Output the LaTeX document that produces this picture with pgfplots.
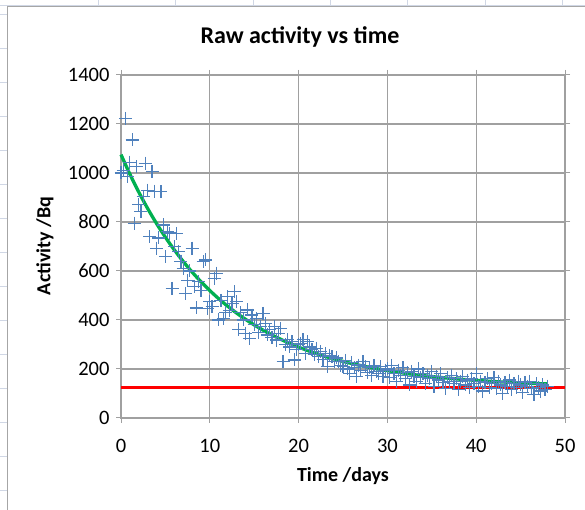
\documentclass[border=0pt]{standalone}
\usepackage{pgfplots}
\pgfplotsset{compat=1.18}
\usepackage{fontspec}
\setmainfont{Carlito}

\definecolor{ptblue}{HTML}{4F81BD}
\definecolor{trendgreen}{HTML}{00B050}
\definecolor{gridgray}{HTML}{A0A0A0}
\definecolor{cellgray}{HTML}{D0D7E5}

% raw counts, one reading every 6 h
\pgfplotstableread{
t A
0.00 1000
0.25 1010
0.50 1223
0.75 985
1.00 1044
1.25 1135
1.50 795
1.75 1026
2.00 870
2.25 842
2.50 905
2.75 1040
3.00 930
3.25 740
3.50 1005
3.75 926
4.00 693
4.25 735
4.50 924
4.75 788
5.00 658
5.25 760
5.50 755
5.75 529
6.00 700
6.25 754
6.50 679
6.75 640
7.00 611
7.25 509
7.50 560
7.75 600
8.00 693
8.25 536
8.50 449
8.75 556
9.00 522
9.25 638
9.50 645
9.75 448
10.00 475
10.25 454
10.50 570
10.75 591
11.00 400
11.25 480
11.50 407
11.75 430
12.00 495
12.25 440
12.50 468
12.75 516
13.00 475
13.25 360
13.50 430
13.75 400
14.00 346
14.25 441
14.50 325
14.75 420
15.00 380
15.25 407
15.50 350
15.75 373
16.00 427
16.25 386
16.50 339
16.75 360
17.00 330
17.25 373
17.50 318
17.75 345
18.00 366
18.25 230
18.50 300
18.75 320
19.00 290
19.25 312
19.50 237
19.75 280
20.00 300
20.25 305
20.50 320
20.75 264
21.00 312
21.25 290
21.50 278
21.75 260
22.00 285
22.25 250
22.50 270
22.75 240
23.00 264
23.25 209
23.50 255
23.75 250
24.00 230
24.25 245
24.50 230
24.75 215
25.00 209
25.25 235
25.50 200
25.75 182
26.00 225
26.25 205
26.50 169
26.75 216
27.00 195
27.25 230
27.50 210
27.75 185
28.00 205
28.25 175
28.50 215
28.75 190
29.00 180
29.25 210
29.50 170
29.75 195
30.00 200
30.25 165
30.50 215
30.75 180
31.00 150
31.25 195
31.50 175
31.75 205
32.00 160
32.25 185
32.50 135
32.75 190
33.00 170
33.25 150
33.50 200
33.75 165
34.00 180
34.25 140
34.50 175
34.75 160
35.00 190
35.25 130
35.50 170
35.75 155
36.00 180
36.25 145
36.50 120
36.75 165
37.00 150
37.25 175
37.50 140
37.75 160
38.00 115
38.25 150
38.50 170
38.75 135
39.00 155
39.25 125
39.50 160
39.75 140
40.00 180
40.25 130
40.50 150
40.75 110
41.00 145
41.25 160
41.50 125
41.75 140
42.00 165
42.25 120
42.50 150
42.75 135
43.00 100
43.25 145
43.50 130
43.75 155
44.00 115
44.25 140
44.50 125
44.75 150
45.00 135
45.25 105
45.50 145
45.75 130
46.00 150
46.25 120
46.50 95
46.75 140
47.00 125
47.25 110
47.50 135
47.75 115
48.00 130
}\rawdata

% fitted decay curve
\pgfplotstableread{
t A
0 1075
1 995.2
2 922.1
3 855.2
4 793.9
5 737.7
6 686.3
7 639.1
8 596.0
9 556.4
10 520.2
11 487.0
12 456.6
13 428.8
14 403.3
15 379.9
16 358.5
17 338.9
18 321.0
19 304.5
20 289.4
21 275.6
22 262.9
23 251.4
24 240.8
25 231.0
26 222.2
27 214.0
28 206.5
29 199.7
30 193.4
31 187.7
32 182.4
33 177.5
34 173.2
35 169.1
36 165.4
37 162.0
38 158.9
39 156.1
40 153.5
41 151.0
42 148.8
43 146.9
44 145.0
45 143.3
46 141.8
47 140.4
48 139.1
}\fitdata

\begin{document}
\begin{tikzpicture}[x=1pt,y=1pt]
\path[use as bounding box] (0,0) rectangle (585,510);
% spreadsheet cells behind the chart
\foreach \yy in {20,54,88,122,156,190,224,258,292,326,360,394,428,462,496}
  \draw[cellgray] (0,\yy) -- (7,\yy);
\foreach \xx in {98,175,253,330,407,485,562}
  \draw[cellgray] (\xx,504) -- (\xx,510);
\draw[cellgray] (0,505) -- (585,505);
% chart area
\fill[white] (7,0) rectangle (585,504);
\draw[gray!70, line width=0.8pt] (7,0) -- (7,504) -- (585,504);

\begin{axis}[
  at={(121pt,92pt)}, anchor=south west,
  scale only axis, width=444pt, height=343pt,
  xmin=0, xmax=50, ymin=0, ymax=1400,
  xtick={0,10,...,50}, ytick={0,200,...,1400},
  grid=major,
  major grid style={gridgray, line width=1.2pt},
  axis line style={gridgray, line width=1.2pt},
  tick style={gridgray, line width=1pt},
  tick align=outside, major tick length=5pt,
  tick label style={font=\fontsize{20.5}{20.5}\selectfont},
  /pgf/number format/assume math mode=true,
  /pgf/number format/1000 sep={},
  yticklabel style={xshift=-3pt},
  xticklabel style={yshift=-13pt},
  clip=false
]
\addplot[red, line width=3.5pt] coordinates {(0,124) (50,124)};
\addplot[only marks, mark=+, mark size=6.5pt, ptblue, mark options={line width=1.2pt}] table[x=t, y=A] {\rawdata};
\addplot[trendgreen, line width=3.3pt, smooth] table[x=t, y=A] {\fitdata};
\end{axis}

\node[font=\fontsize{24}{24}\selectfont\bfseries] at (300,473) {Raw activity vs time};
\node[font=\fontsize{20}{20}\selectfont\bfseries] at (343,34) {Time /days};
\node[font=\fontsize{20}{20}\selectfont\bfseries, rotate=90] at (45,264) {Activity /Bq};
\end{tikzpicture}
\end{document}
